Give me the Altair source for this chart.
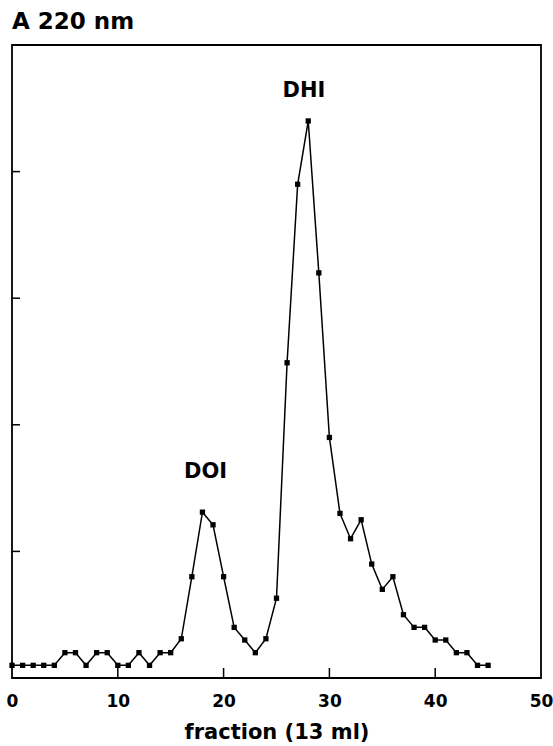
import altair as alt
import pandas as pd

# Elution profile: absorbance at 220 nm per 13 ml fraction
fraction = list(range(46))
absorbance = [
    0.1, 0.1, 0.1, 0.1, 0.1, 0.2, 0.2, 0.1, 0.2, 0.2,
    0.1, 0.1, 0.2, 0.1, 0.2, 0.2, 0.31, 0.8, 1.31, 1.21,
    0.8, 0.4, 0.3, 0.2, 0.31, 0.63, 2.49, 3.9, 4.4, 3.2,
    1.9, 1.3, 1.1, 1.25, 0.9, 0.7, 0.8, 0.5, 0.4, 0.4,
    0.3, 0.3, 0.2, 0.2, 0.1, 0.1,
]

x_label_values = [0, 10, 20, 30, 40, 50]
x_tick_values = [10, 20, 30, 40]
y_tick_values = [1, 2, 3, 4]

peak_names = ["DOI", "DHI"]
peak_x = [18.3, 27.6]
peak_y = [1.58, 4.59]

W, H = 529, 633
FONT = "DejaVu Sans"

profile = pd.DataFrame({"fraction": fraction, "absorbance": absorbance})
peaks = pd.DataFrame({"name": peak_names, "x": peak_x, "y": peak_y})
xticks = pd.DataFrame({"t": x_tick_values})
yticks = pd.DataFrame({"t": y_tick_values})

xscale = alt.Scale(domain=[0, 50], nice=False, zero=False)
yscale = alt.Scale(domain=[0, 5], nice=False)

x_enc = alt.X(
    "fraction:Q",
    scale=xscale,
    axis=alt.Axis(
        values=x_label_values,
        ticks=False,
        domain=False,
        grid=False,
        labelFlush=False,
        labelOverlap=False,
        labelFont=FONT,
        labelFontWeight="bold",
        labelFontSize=17,
        labelColor="black",
        labelPadding=15,
        title="fraction (13 ml)",
        titleFont=FONT,
        titleFontWeight="bold",
        titleFontSize=21,
        titleColor="black",
        titlePadding=12,
    ),
)
y_enc = alt.Y("absorbance:Q", scale=yscale, axis=None)

line = alt.Chart(profile).mark_line(color="black", strokeWidth=1.5).encode(x=x_enc, y=y_enc)
points = alt.Chart(profile).mark_point(
    shape="square", filled=True, color="black", size=28, opacity=1
).encode(x=alt.X("fraction:Q", scale=xscale), y=alt.Y("absorbance:Q", scale=yscale))

x_tick_marks = alt.Chart(xticks).mark_rule(color="black", strokeWidth=1.5).encode(
    x=alt.X("t:Q", scale=xscale),
    y=alt.value(H),
    y2=alt.value(H - 10),
)
y_tick_marks = alt.Chart(yticks).mark_rule(color="black", strokeWidth=1.5).encode(
    y=alt.Y("t:Q", scale=yscale),
    x=alt.value(0),
    x2=alt.value(8),
)

labels = alt.Chart(peaks).mark_text(
    font=FONT, fontWeight="bold", fontSize=21, color="black",
    align="center", baseline="alphabetic",
).encode(
    x=alt.X("x:Q", scale=xscale),
    y=alt.Y("y:Q", scale=yscale),
    text="name:N",
)

chart = (
    alt.layer(line, points, x_tick_marks, y_tick_marks, labels)
    .properties(
        width=W,
        height=H,
        autosize=alt.AutoSizeParams(type="none"),
        padding={"left": 12, "top": 45, "right": 12, "bottom": 68},
        background="white",
        title=alt.TitleParams(
            "A 220 nm",
            anchor="start",
            frame="group",
            font=FONT,
            fontWeight="bold",
            fontSize=23,
            color="black",
            offset=11,
        ),
    )
    .configure_view(stroke="#000000", strokeWidth=1.8, strokeOpacity=1)
)

chart.save("out.html", embed_options={"renderer": "svg", "actions": False})
